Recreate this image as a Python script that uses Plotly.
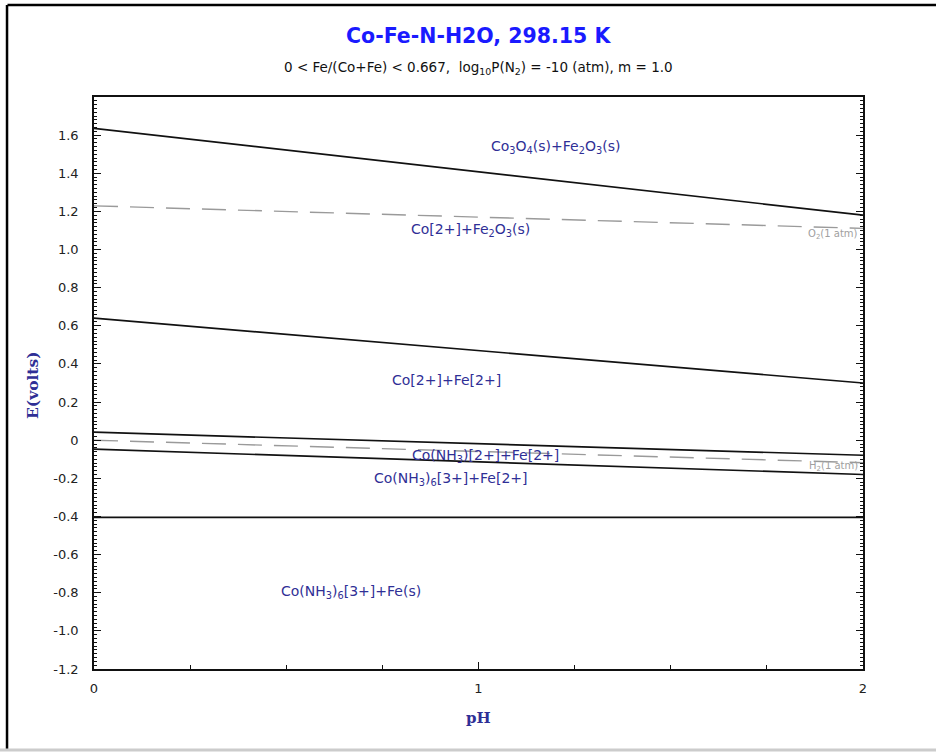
import plotly.graph_objects as go

# pH span of the diagram
ph = [0.0, 2.0]

# Boundary lines: potential (V) at pH 0 and pH 2
co3o4_co2_E = [1.636, 1.180]
fe2o3_fe2_E = [0.640, 0.300]
co_nh3_upper_E = [0.042, -0.079]
co_nh3_lower_E = [-0.047, -0.180]
fe2_fe_E = [-0.405, -0.405]

# Water stability lines
o2_E = [1.229, 1.111]
h2_E = [0.000, -0.118]

# Region labels (pH, E, text)
region_ph = [1.199, 0.978, 0.918, 1.017, 0.928, 0.668]
region_E = [1.54, 1.10, 0.315, -0.084, -0.205, -0.797]
region_text = [
    "Co<sub>3</sub>O<sub>4</sub>(s)+Fe<sub>2</sub>O<sub>3</sub>(s)",
    "Co[2+]+Fe<sub>2</sub>O<sub>3</sub>(s)",
    "Co[2+]+Fe[2+]",
    "Co(NH<sub>3</sub>)[2+]+Fe[2+]",
    "Co(NH<sub>3</sub>)<sub>6</sub>[3+]+Fe[2+]",
    "Co(NH<sub>3</sub>)<sub>6</sub>[3+]+Fe(s)",
]

# Water line labels
water_ph = [1.922, 1.922]
water_E = [1.08, -0.136]
water_text = ["O<sub>2</sub>(1 atm)", "H<sub>2</sub>(1 atm)"]

# Axis ticks
y_tickvals = [1.6, 1.4, 1.2, 1.0, 0.8, 0.6, 0.4, 0.2, 0.0, -0.2, -0.4, -0.6, -0.8, -1.0, -1.2]
y_ticktext = ["1.6", "1.4", "1.2", "1.0", "0.8", "0.6", "0.4", "0.2", "0",
              "-0.2", "-0.4", "-0.6", "-0.8", "-1.0", "-1.2"]
x_tickvals = [0, 1, 2]
x_ticktext = ["0", "1", "2"]

NAVY = "#2f2f96"
SANS = "DejaVu Sans, Arial"
SERIF = "DejaVu Serif, Times New Roman"
fig = go.Figure()

for E in [co3o4_co2_E, fe2o3_fe2_E, co_nh3_upper_E, co_nh3_lower_E, fe2_fe_E]:
    fig.add_trace(go.Scatter(x=ph, y=E, mode="lines",
                             line=dict(color="#111111", width=1.7),
                             showlegend=False, hoverinfo="skip"))

for E in [o2_E, h2_E]:
    fig.add_trace(go.Scatter(x=ph, y=E, mode="lines",
                             line=dict(color="#9a9a9a", width=1.4, dash="24px,12px"),
                             showlegend=False, hoverinfo="skip"))

for xv, yv, t in zip(region_ph, region_E, region_text):
    fig.add_annotation(x=xv, y=yv, text=t, showarrow=False,
                       font=dict(family=SANS, size=14, color=NAVY))

for xv, yv, t in zip(water_ph, water_E, water_text):
    fig.add_annotation(x=xv, y=yv, text=t, showarrow=False,
                       font=dict(family=SANS, size=10, color="#a0a0a0"))

# Title and subtitle
fig.add_annotation(x=0.5, y=1.1066, xref="paper", yref="paper", showarrow=False,
                   xanchor="center", yanchor="middle",
                   text="<b>Co-Fe-N-H2O, 298.15 K</b>",
                   font=dict(family=SANS, size=20.5, color="#1a1aff"))
fig.add_annotation(x=0.5, y=1.0505, xref="paper", yref="paper", showarrow=False,
                   xanchor="center", yanchor="middle",
                   text="0 < Fe/(Co+Fe) < 0.667,  log<sub>10</sub>P(N<sub>2</sub>) = -10 (atm), m = 1.0",
                   font=dict(family=SANS, size=13.5, color="#111111"))

# Axis titles
fig.add_annotation(x=-0.0806, y=0.4965, xref="paper", yref="paper", showarrow=False,
                   xanchor="center", yanchor="middle",
                   text="<b>E(volts)</b>", textangle=-90,
                   font=dict(family=SERIF, size=15.5, color=NAVY))
fig.add_annotation(x=0.5, y=-0.0857, xref="paper", yref="paper", showarrow=False,
                   xanchor="center", yanchor="middle",
                   text="<b>pH</b>",
                   font=dict(family=SERIF, size=15, color=NAVY))

# Page frame
fig.add_shape(type="line", xref="paper", yref="paper", x0=-0.1125, x1=1.1, y0=1.1608, y1=1.1608,
              line=dict(color="#000000", width=2.5))
fig.add_shape(type="line", xref="paper", yref="paper", x0=-0.1131, x1=-0.1131, y0=-0.1416, y1=1.1608,
              line=dict(color="#000000", width=2.5))
fig.add_shape(type="line", xref="paper", yref="paper", x0=-0.13, x1=1.1, y0=-0.1416, y1=-0.1416,
              line=dict(color="#cccccc", width=3))

fig.update_xaxes(range=[0, 2], tickvals=x_tickvals, ticktext=x_ticktext,
                 ticks="inside", ticklen=7, tickwidth=1, tickcolor="#111111",
                 minor=dict(dtick=0.25, ticks="inside", ticklen=4, tickcolor="#111111"),
                 showline=True, linecolor="#111111", linewidth=1.6, mirror=True,
                 showgrid=False, zeroline=False, ticklabelstandoff=7,
                 tickfont=dict(family=SANS, size=13, color="#222222"))
fig.update_yaxes(range=[-1.2, 1.8], tickvals=y_tickvals, ticktext=y_ticktext,
                 ticks="inside", ticklen=7, tickwidth=1, tickcolor="#111111",
                 minor=dict(dtick=0.02, tick0=0, ticks="inside", ticklen=3, tickcolor="#111111"),
                 showline=True, linecolor="#111111", linewidth=1.6, mirror="ticks",
                 showgrid=False, zeroline=False, ticklabelstandoff=11,
                 tickfont=dict(family=SANS, size=13, color="#222222"))

fig.update_layout(width=936, height=755, margin=dict(l=94, r=73, t=97, b=86),
                  plot_bgcolor="white", paper_bgcolor="white", showlegend=False)

fig.write_html("out.html")
